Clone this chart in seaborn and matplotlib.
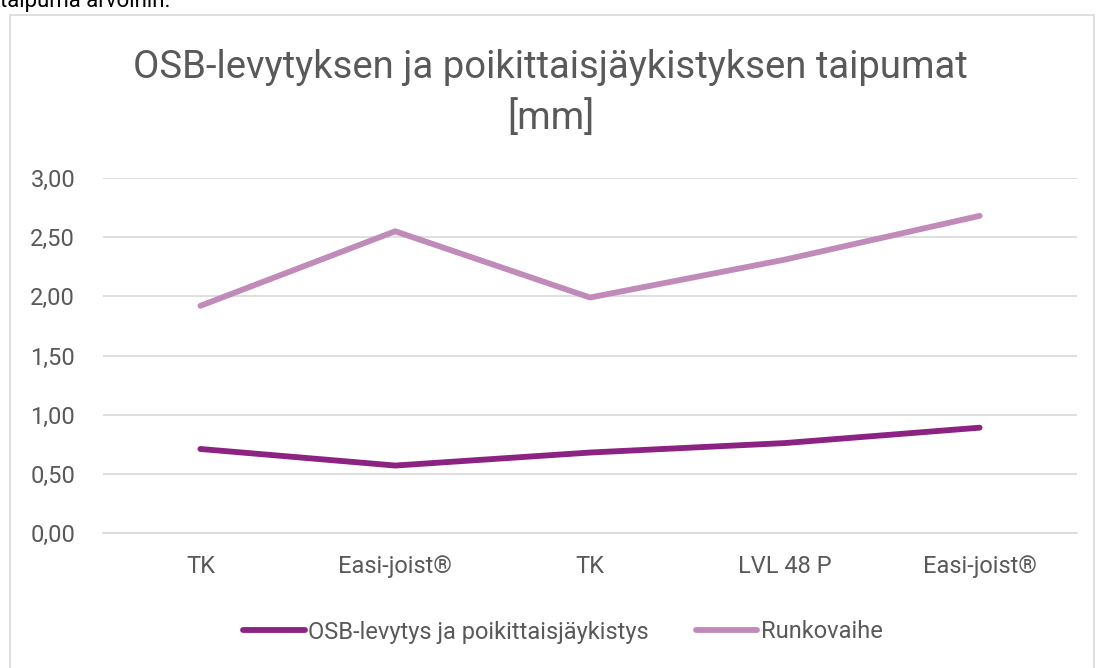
import matplotlib
matplotlib.use("Agg")
import matplotlib.pyplot as plt
import seaborn as sns
import pandas as pd
import numpy as np
from matplotlib.ticker import FuncFormatter
from matplotlib.patches import Rectangle
from matplotlib.lines import Line2D

categories = ["TK", "Easi-joist®", "TK", "LVL 48 P", "Easi-joist®"]
osb_values = [0.71, 0.57, 0.68, 0.76, 0.89]
runko_values = [1.92, 2.55, 1.99, 2.31, 2.68]
series_names = ["OSB-levytys ja poikittaisjäykistys", "Runkovaihe"]
colors = ["#8C2282", "#C08BB9"]
yticks = [0.0, 0.5, 1.0, 1.5, 2.0, 2.5, 3.0]

sns.set_theme(style="white")
plt.rcParams["font.family"] = ["Roboto", "DejaVu Sans"]

pos = list(range(len(categories)))
df = pd.DataFrame({
    "pos": pos * 2,
    "value": osb_values + runko_values,
    "series": [series_names[0]] * len(pos) + [series_names[1]] * len(pos),
})

fig = plt.figure(figsize=(11.01, 6.68), dpi=100)
fig.patch.set_facecolor("white")

# chart-area border
fig.add_artist(Rectangle((10/1101, -0.01), (1094-10)/1101, 1 - 15/668 + 0.01,
                         transform=fig.transFigure, fill=False,
                         edgecolor="#D9D9D9", linewidth=1.2))
fig.text(0.0, 1 - 2/668, "taipuma arvoihin.", fontsize=16, color="#000000",
         ha="left", va="center")

ax = fig.add_axes([103/1101, 1 - 533/668, (1077-103)/1101, (533-178)/668])
sns.lineplot(data=df, x="pos", y="value", hue="series", palette=colors,
             linewidth=4.2, ax=ax, legend=False, solid_capstyle="round")

ax.set_xlim(-0.5, len(categories) - 0.5)
ax.set_ylim(0, 3.0)
ax.set_yticks(yticks)
ax.yaxis.set_major_formatter(FuncFormatter(lambda v, p: f"{v:.2f}".replace(".", ",")))
ax.set_xticks(pos)
ax.set_xticklabels(categories)
ax.grid(axis="y", color="#D9D9D9", linewidth=1.2)
ax.grid(axis="x", visible=False)
for s in ax.spines.values():
    s.set_visible(False)
ax.spines["bottom"].set_visible(True)
ax.spines["bottom"].set_color("#D9D9D9")
ax.spines["bottom"].set_linewidth(1.2)
ax.tick_params(axis="y", colors="#595959", labelsize=17, length=0, pad=20)
ax.tick_params(axis="x", colors="#595959", labelsize=17, length=0, pad=16)
ax.set_xlabel("")
ax.set_ylabel("")
for lbl in ax.get_yticklabels() + ax.get_xticklabels():
    lbl.set_color("#595959")

fig.text(0.5, 1 - 67/668, "OSB-levytyksen ja poikittaisjäykistyksen taipumat",
         ha="center", va="center", fontsize=27.5, color="#595959")
fig.text(0.5, 1 - 118/668, "[mm]", ha="center", va="center", fontsize=27.5, color="#595959")

handles = [Line2D([0], [0], color=c, linewidth=4.2, solid_capstyle="round") for c in colors]
leg = fig.legend(handles, series_names, loc="center", bbox_to_anchor=(563/1101, 1 - 632/668),
                 ncol=2, frameon=False, fontsize=17, handlelength=2.6,
                 handletextpad=0.15, columnspacing=2.0)
for t in leg.get_texts():
    t.set_color("#595959")

fig.savefig("out.png", dpi=100, facecolor="white")
